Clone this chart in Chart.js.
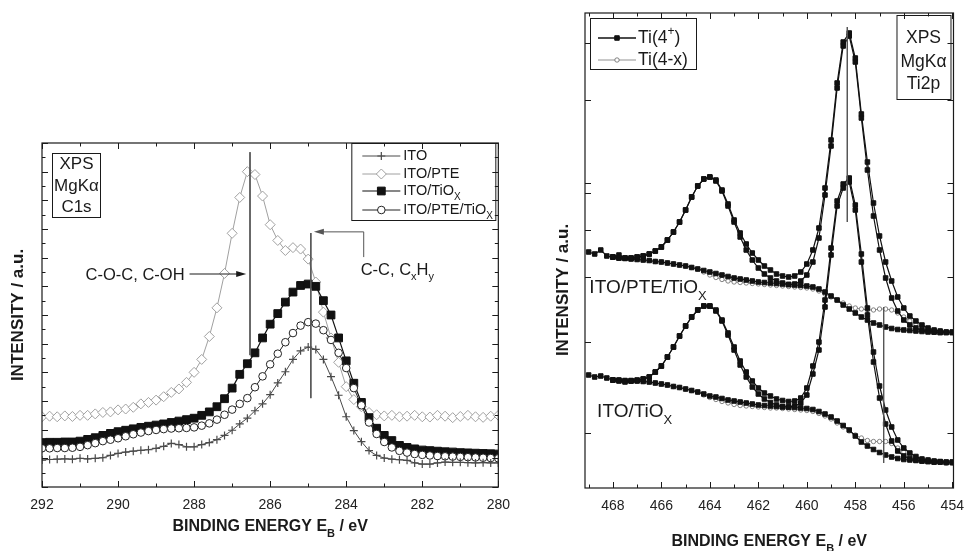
<!DOCTYPE html>
<html>
<head>
<meta charset="utf-8">
<script src="https://cdn.jsdelivr.net/npm/chart.js@4/dist/chart.umd.min.js"></script>
<style>
  body { margin: 0; background: #fff; }
  #c1sChart { position: absolute; left: 0; top: 0; }
  #ti2pChart { position: absolute; left: 520px; top: 0; }
</style>
</head>
<body>
<canvas id="c1sChart" width="520" height="551"></canvas>
<canvas id="ti2pChart" width="454" height="551"></canvas>
<script>
// ---------- C1s panel (left) ----------
const c1sEnergy = [
  292.0, 291.8, 291.6, 291.4, 291.2, 291.0, 290.8, 290.6, 290.4, 290.2,
  290.0, 289.8, 289.6, 289.4, 289.2, 289.0, 288.8, 288.6, 288.4, 288.2,
  288.0, 287.8, 287.6, 287.4, 287.2, 287.0, 286.8, 286.6, 286.4, 286.2,
  286.0, 285.8, 285.6, 285.4, 285.2, 285.0, 284.8, 284.6, 284.4, 284.2,
  284.0, 283.8, 283.6, 283.4, 283.2, 283.0, 282.8, 282.6, 282.4, 282.2,
  282.0, 281.8, 281.6, 281.4, 281.2, 281.0, 280.8, 280.6, 280.4, 280.2,
  280.0
];
const ito = [
  0.94, 0.96, 0.97, 0.98, 0.97, 1.0, 0.98, 1.0, 1.02, 1.1,
  1.17, 1.22, 1.25, 1.28, 1.3, 1.35, 1.42, 1.52, 1.48, 1.4,
  1.4, 1.48, 1.55, 1.65, 1.8, 1.98, 2.2, 2.4, 2.66, 2.9,
  3.22, 3.63, 4.02, 4.45, 4.75, 4.88, 4.8, 4.45, 3.85, 3.2,
  2.45, 1.97, 1.58, 1.27, 1.1, 1.01, 0.97, 0.95, 0.93, 0.84,
  0.8, 0.8, 0.84, 0.87, 0.86, 0.86, 0.85, 0.84, 0.85, 0.84,
  0.84
];
const itoPte = [
  2.45, 2.47, 2.45, 2.48, 2.46, 2.5, 2.5, 2.55, 2.6, 2.62,
  2.69, 2.72, 2.78, 2.9, 2.95, 3.03, 3.15, 3.3, 3.42, 3.65,
  4.0, 4.45, 5.25, 6.25, 7.45, 8.85, 10.1, 11.0, 10.9, 10.15,
  9.15, 8.6, 8.25, 8.35, 8.3, 7.95, 7.15, 6.1, 5.2, 4.35,
  3.5, 3.05, 2.8, 2.6, 2.52, 2.48, 2.5, 2.45, 2.47, 2.5,
  2.45, 2.44, 2.5, 2.47, 2.42, 2.46, 2.5, 2.45, 2.43, 2.47,
  2.5
];
const itoTiox = [
  1.55, 1.56, 1.56, 1.57, 1.57, 1.6, 1.66, 1.72, 1.8, 1.87,
  1.93, 1.98, 2.03, 2.08, 2.12, 2.16, 2.2, 2.25, 2.3, 2.35,
  2.4, 2.5, 2.62, 2.8, 3.08, 3.45, 3.93, 4.3, 4.68, 5.2,
  5.68, 6.05, 6.45, 6.8, 7.03, 7.08, 7.0, 6.5, 6.0, 5.2,
  4.4, 3.62, 2.95, 2.42, 2.05, 1.8, 1.62, 1.45, 1.38, 1.33,
  1.29, 1.27, 1.25, 1.23, 1.22, 1.2, 1.19, 1.18, 1.17, 1.16,
  1.15
];
const itoPteTiox = [
  1.35, 1.35, 1.36, 1.36, 1.37, 1.4, 1.46, 1.53, 1.6, 1.65,
  1.7, 1.77, 1.84, 1.9, 1.95, 1.99, 2.02, 2.04, 2.05, 2.06,
  2.08, 2.14, 2.22, 2.35, 2.52, 2.7, 2.9, 3.1, 3.48, 3.86,
  4.28, 4.65, 5.05, 5.37, 5.63, 5.75, 5.7, 5.47, 5.13, 4.68,
  4.15, 3.45, 2.85, 2.25, 1.85, 1.57, 1.38, 1.26, 1.2, 1.15,
  1.12, 1.1, 1.08, 1.07, 1.06, 1.05, 1.04, 1.03, 1.02, 1.01,
  1.0
];
const c1sTicks = [292, 290, 288, 286, 284, 282, 280];
// peak marker lines: [energy, top, bottom]
const c1sPeakLines = [[286.53, 11.68, 4.6], [284.93, 8.86, 3.1]];

// ---------- Ti2p panel (right) ----------
const ti2pEnergy = [
  469.0, 468.75, 468.5, 468.25, 468.0, 467.75, 467.5, 467.25,
  467.0, 466.75, 466.5, 466.25, 466.0, 465.75, 465.5, 465.25,
  465.0, 464.75, 464.5, 464.25, 464.0, 463.75, 463.5, 463.25,
  463.0, 462.75, 462.5, 462.25, 462.0, 461.75, 461.5, 461.25,
  461.0, 460.75, 460.5, 460.25, 460.0, 459.75, 459.5, 459.25,
  459.0, 458.75, 458.5, 458.25, 458.0, 457.75, 457.5, 457.25,
  457.0, 456.75, 456.5, 456.25, 456.0, 455.75, 455.5, 455.25,
  455.0, 454.75, 454.5, 454.25, 454.0
];
// ITO/PTE/TiOx (upper trace)
const ptEnvelope = [
  236, 234, 238, 232, 231, 233, 230, 230,
  231, 232, 234, 237, 241, 248, 256, 266,
  278, 291, 302, 309, 311, 308, 298, 284,
  268, 255, 244, 235, 228, 222, 218, 214,
  212, 211, 212, 216, 224, 238, 260, 300,
  348, 405, 446, 455, 430, 374, 326, 285,
  252, 226, 207, 191, 180, 172, 167, 163,
  160, 158, 157, 156, 156
];
const ptTi4a = [
  null, null, null, null, 231, 230, 230, 230,
  231, 232, 234, 237, 241, 248, 256, 266,
  278, 291, 302, 309, 311, 307, 297, 282,
  266, 251, 238, 228, 220, 214, 210, 207,
  205, 203.5, 203, 202.5, 202, 201, 199, 196,
  192, 188, 183, 179, 175, 171, 168, 165,
  163, 161, 159.5, 158.5, 158, 157.5, 157, 156.5,
  156, 156, 155.5, 155.5, 155.5
];
const ptTi4b = [
  null, null, null, null, 231, 230, 229.5, 229,
  228.5, 228, 227.5, 226.5, 226, 225, 224, 223,
  222, 220.5, 219, 217.5, 216, 214.5, 213, 211.5,
  210, 209, 208, 207, 206, 205.5, 205, 204.5,
  204, 203.5, 204, 207, 213, 226, 250, 293,
  342, 400, 442, 452, 426, 370, 318, 272,
  238, 210, 190, 177, 168, 163, 160, 158,
  157, 156, 155.5, 155.5, 155.5
];
const ptTi3 = [
  null, null, null, null, 231, 230, 229.5, 229,
  228.5, 228, 227.5, 226.5, 226, 225, 224, 223,
  222, 220.5, 219, 216, 213, 210.5, 208.5, 207,
  206, 205.5, 205, 204.5, 204, 203.5, 203, 202.5,
  202, 201.5, 201, 200.5, 200, 199, 197, 194,
  191, 188, 185, 182, 180, 179, 178, 178,
  179, 179, 178, 175, 171, 167, 164, 161.5,
  159.5, 158, 157, 156, 155.5
];
// ITO/TiOx (lower trace)
const tiEnvelope = [
  113, 111, 112, 110, 108, 107, 106, 107,
  107.5, 109, 111, 116, 122, 131, 141, 152,
  162, 171, 178, 182, 182, 178, 168, 155,
  141, 127, 116, 107, 100, 95, 92, 89,
  87.5, 86.5, 87, 90, 100, 122, 146, 188,
  240, 287, 304, 310, 283, 234, 180, 136,
  102, 78, 61, 48, 40, 35, 31.5, 29,
  28, 27, 26.5, 26, 26
];
const tiTi4a = [
  null, null, null, null, 108, 107.5, 107, 107.5,
  108, 109, 111, 116, 122, 131, 141, 152,
  162, 171, 178, 182, 182, 177, 167, 153,
  138, 123, 111, 101, 94, 89, 85.5, 83,
  81.5, 81, 80.5, 80, 79.5, 78.5, 76.5, 74,
  71, 67, 62.5, 58, 52, 46, 42, 38.5,
  35.5, 33, 31, 29.5, 28.5, 28, 27.5, 27,
  26.5, 26, 26, 25.5, 25.5
];
const tiTi4b = [
  null, null, null, null, 108, 108, 107.5, 107,
  107, 106.5, 106, 105, 104, 103, 101.5, 100.5,
  99, 97.5, 96, 94, 92, 91, 89.5, 88,
  87, 86, 85, 84, 83, 82.5, 82, 81.5,
  81, 81, 82, 85, 93, 114, 138, 181,
  233, 282, 300, 306, 278, 226, 173, 126,
  90, 64, 47, 37, 32, 29.5, 28, 27,
  26.5, 26, 26, 25.5, 25.5
];
const tiTi3 = [
  null, null, null, null, 108, 108, 107.5, 107,
  107, 106.5, 106, 105, 104, 103, 101.5, 100.5,
  99, 97.5, 96, 93, 90.5, 88.5, 86.5, 85,
  83.5, 82.5, 82, 81.5, 81, 80.5, 80, 80,
  79.5, 79, 78.5, 78, 77.5, 76.5, 74.5, 72,
  69, 65, 61, 57, 53, 50, 47.5, 46.5,
  46.5, 46.5, 44.5, 40, 36, 33, 31, 29,
  28, 27, 26, 25, 25
];
const ti2pTicks = [468, 466, 464, 462, 460, 458, 456, 454];
const ti2pYTicks = [445, 388, 305, 295, 258, 211, 146, 55];
const ti2pPeakLines = [[458.33, 461, 266], [456.83, 181, 25]];

const FONT = '"Liberation Sans", Arial, sans-serif';
const INK = '#1a1a1a';

function points(xs, ys) {
  return xs.map((x, i) => ({ x: x, y: ys[i] })).filter(p => p.y !== null);
}

function markLine(line) {
  return {
    data: [{ x: line[0], y: line[1] }, { x: line[0], y: line[2] }],
    showLine: true, borderColor: '#555', borderWidth: 1, pointRadius: 0
  };
}

// text with optional sub/superscripts: parts are strings or {sub:..} / {sup:..}
function richText(ctx, parts, x, y, size, align, bold) {
  const weight = bold ? 'bold ' : '';
  const items = parts.map(p => {
    const plain = typeof p === 'string';
    const t = plain ? p : (p.sub || p.sup);
    const s = plain ? size : Math.round(size * 0.68);
    const dy = plain ? 0 : (p.sub ? size * 0.42 : -size * 0.38);
    ctx.font = weight + s + 'px ' + FONT;
    return { t: t, s: s, dy: dy, w: ctx.measureText(t).width };
  });
  const total = items.reduce((a, it) => a + it.w, 0);
  let cx = align === 'center' ? x - total / 2 : align === 'right' ? x - total : x;
  ctx.textAlign = 'left';
  ctx.textBaseline = 'middle';
  items.forEach(it => {
    ctx.font = weight + it.s + 'px ' + FONT;
    ctx.fillText(it.t, cx, y + it.dy);
    cx += it.w;
  });
}

function drawFrame(chart, xMajor, yMajor, yMinor) {
  const { ctx, chartArea: a, scales } = chart;
  const xs = scales.x, ys = scales.y;
  ctx.save();
  ctx.strokeStyle = INK;
  ctx.lineWidth = 1.2;
  ctx.strokeRect(a.left, a.top, a.right - a.left, a.bottom - a.top);
  ctx.lineWidth = 1;
  ctx.beginPath();
  const xMinor = [];
  for (let v = Math.ceil(xs.min); v <= Math.floor(xs.max); v++) {
    if (!xMajor.includes(v)) xMinor.push(v);
  }
  const tx = (v, len) => {
    const p = Math.round(xs.getPixelForValue(v)) + 0.5;
    ctx.moveTo(p, a.bottom); ctx.lineTo(p, a.bottom - len);
    ctx.moveTo(p, a.top); ctx.lineTo(p, a.top + len);
  };
  const ty = (v, len) => {
    const p = Math.round(ys.getPixelForValue(v)) + 0.5;
    ctx.moveTo(a.left, p); ctx.lineTo(a.left + len, p);
    ctx.moveTo(a.right, p); ctx.lineTo(a.right - len, p);
  };
  xMajor.forEach(v => tx(v, 6));
  xMinor.forEach(v => tx(v, 3.5));
  yMajor.forEach(v => ty(v, 6));
  yMinor.forEach(v => ty(v, 3.5));
  ctx.stroke();
  ctx.restore();
}

function legendMark(ctx, ds, x, y) {
  ctx.save();
  ctx.strokeStyle = ds.borderColor;
  ctx.lineWidth = ds.borderWidth;
  ctx.beginPath(); ctx.moveTo(x - 19, y); ctx.lineTo(x + 19, y); ctx.stroke();
  ctx.fillStyle = ds.pointBackgroundColor;
  ctx.strokeStyle = ds.pointBorderColor;
  ctx.lineWidth = ds.pointBorderWidth;
  Chart.helpers.drawPoint(ctx, {
    pointStyle: ds.pointStyle, radius: ds.pointRadius, rotation: 0, borderWidth: ds.pointBorderWidth
  }, x, y);
  ctx.restore();
}

function yTitle(ctx, x, y) {
  ctx.save();
  ctx.translate(x, y);
  ctx.rotate(-Math.PI / 2);
  ctx.fillStyle = INK;
  richText(ctx, ['INTENSITY / a.u.'], 0, 0, 17, 'center', true);
  ctx.restore();
}

function arrowHead(ctx, x, y, dir) {
  ctx.beginPath();
  ctx.moveTo(x, y);
  ctx.lineTo(x - dir * 10, y - 3);
  ctx.lineTo(x - dir * 10, y + 3);
  ctx.closePath();
  ctx.fill();
}

// ---------- left chart ----------
const c1sSets = [
  markLine(c1sPeakLines[0]),
  markLine(c1sPeakLines[1]),
  { label: 'ITO', data: points(c1sEnergy, ito), showLine: true,
    borderColor: '#4a4a4a', borderWidth: 1, pointStyle: 'cross', pointRadius: 4,
    pointBorderColor: '#4a4a4a', pointBackgroundColor: '#4a4a4a', pointBorderWidth: 1.2 },
  { label: 'ITO/PTE/TiOx', data: points(c1sEnergy, itoPteTiox), showLine: true,
    borderColor: '#222', borderWidth: 1, pointStyle: 'circle', pointRadius: 3.8,
    pointBorderColor: '#222', pointBackgroundColor: '#fff', pointBorderWidth: 1 },
  { label: 'ITO/TiOx', data: points(c1sEnergy, itoTiox), showLine: true,
    borderColor: '#111', borderWidth: 1.2, pointStyle: 'rect', pointRadius: 5.5,
    pointBorderColor: '#111', pointBackgroundColor: '#111', pointBorderWidth: 1 },
  { label: 'ITO/PTE', data: points(c1sEnergy, itoPte), showLine: true,
    borderColor: '#a0a0a0', borderWidth: 1, pointStyle: 'rectRot', pointRadius: 5,
    pointBorderColor: '#a0a0a0', pointBackgroundColor: '#fff', pointBorderWidth: 1 }
];

const c1sDecor = {
  id: 'c1sDecor',
  afterDraw(chart) {
    const { ctx, chartArea: a, scales } = chart;
    const xs = scales.x, ys = scales.y;
    const yMajor = [], yMinor = [];
    for (let v = 0; v <= 12; v += 0.5) (v % 1 === 0 ? yMajor : yMinor).push(v);
    drawFrame(chart, c1sTicks, yMajor, yMinor);

    ctx.save();
    ctx.fillStyle = INK;
    ctx.strokeStyle = INK;
    ctx.lineWidth = 1;
    // XPS box
    ctx.strokeRect(a.left + 10.5, a.top + 10.5, 48, 64);
    richText(ctx, ['XPS'], a.left + 34.5, a.top + 21, 17, 'center');
    richText(ctx, ['MgKα'], a.left + 34.5, a.top + 43, 17, 'center');
    richText(ctx, ['C1s'], a.left + 34.5, a.top + 64, 17, 'center');

    // legend
    const lx = a.right - 147, ly = a.top;
    ctx.strokeRect(lx + 0.5, ly + 0.5, 144, 77);
    const order = [c1sSets[2], c1sSets[5], c1sSets[4], c1sSets[3]];
    const labels = [['ITO'], ['ITO/PTE'], ['ITO/TiO', { sub: 'X' }], ['ITO/PTE/TiO', { sub: 'X' }]];
    const rows = [13, 31, 48, 67];
    order.forEach((ds, i) => {
      legendMark(ctx, ds, lx + 30, ly + rows[i]);
      ctx.fillStyle = INK;
      richText(ctx, labels[i], lx + 52, ly + rows[i], 14.5, 'left');
    });

    // C-O-C arrow
    const y1 = ys.getPixelForValue(7.43);
    ctx.strokeStyle = INK;
    ctx.beginPath();
    ctx.moveTo(xs.getPixelForValue(288.12), y1);
    ctx.lineTo(xs.getPixelForValue(286.63) - 8, y1);
    ctx.stroke();
    arrowHead(ctx, xs.getPixelForValue(286.63), y1, 1);
    richText(ctx, ['C-O-C, C-OH'], xs.getPixelForValue(288.25), y1 + 1, 16.5, 'right');

    // C-C arrow
    const y2 = ys.getPixelForValue(8.9), y3 = ys.getPixelForValue(8.02);
    const xc = xs.getPixelForValue(283.54);
    ctx.strokeStyle = '#555';
    ctx.beginPath();
    ctx.moveTo(xc, y3); ctx.lineTo(xc, y2);
    ctx.lineTo(xs.getPixelForValue(284.85) + 8, y2);
    ctx.stroke();
    ctx.fillStyle = '#555';
    arrowHead(ctx, xs.getPixelForValue(284.85), y2, -1);
    ctx.fillStyle = INK;
    richText(ctx, ['C-C, C', { sub: 'x' }, 'H', { sub: 'y' }], xs.getPixelForValue(283.62), ys.getPixelForValue(7.57), 16.5, 'left');

    // axis titles
    richText(ctx, ['BINDING ENERGY E', { sub: 'B' }, ' / eV'], (a.left + a.right) / 2, 527, 16, 'center', true);
    yTitle(ctx, 18, (a.top + a.bottom) / 2);
    ctx.restore();
  }
};

new Chart(document.getElementById('c1sChart'), {
  type: 'scatter',
  data: { datasets: c1sSets },
  options: {
    responsive: false,
    animation: false,
    events: [],
    layout: { padding: { top: 143, right: 20, left: 0, bottom: 0 } },
    plugins: { legend: { display: false }, tooltip: { enabled: false } },
    scales: {
      x: {
        type: 'linear', reverse: true, min: 280, max: 292,
        afterBuildTicks: s => { s.ticks = c1sTicks.map(v => ({ value: v })); },
        afterFit: s => { s.height = 64; },
        grid: { display: false, drawTicks: false },
        border: { display: false },
        ticks: { padding: 10, maxRotation: 0, color: '#222', font: { family: FONT, size: 14 } }
      },
      y: {
        min: 0, max: 12,
        afterFit: s => { s.width = 42; },
        grid: { display: false, drawTicks: false },
        border: { display: false },
        ticks: { display: false }
      }
    }
  },
  plugins: [c1sDecor]
});

// ---------- right chart ----------
function squares(data, width) {
  return { data: data, showLine: true, borderColor: '#111', borderWidth: width,
    pointStyle: 'rect', pointRadius: 3.2, pointBorderColor: '#111',
    pointBackgroundColor: '#111', pointBorderWidth: 1 };
}
function circles(data) {
  return { data: data, showLine: true, borderColor: '#777', borderWidth: 0.8,
    pointStyle: 'circle', pointRadius: 2.2, pointBorderColor: '#666',
    pointBackgroundColor: '#fff', pointBorderWidth: 0.8 };
}

const ti2pSets = [
  markLine(ti2pPeakLines[0]),
  markLine(ti2pPeakLines[1]),
  squares(points(ti2pEnergy, ptEnvelope), 1.2),
  squares(points(ti2pEnergy, ptTi4a), 1.2),
  squares(points(ti2pEnergy, ptTi4b), 1.2),
  squares(points(ti2pEnergy, tiEnvelope), 1.2),
  squares(points(ti2pEnergy, tiTi4a), 1.2),
  squares(points(ti2pEnergy, tiTi4b), 1.2),
  circles(points(ti2pEnergy, ptTi3)),
  circles(points(ti2pEnergy, tiTi3))
];

const ti2pDecor = {
  id: 'ti2pDecor',
  afterDraw(chart) {
    const { ctx, chartArea: a, scales } = chart;
    const xs = scales.x, ys = scales.y;
    drawFrame(chart, ti2pTicks, ti2pYTicks, []);

    ctx.save();
    ctx.fillStyle = INK;
    ctx.strokeStyle = INK;
    ctx.lineWidth = 1;
    // legend
    const lx = a.left + 5, ly = a.top + 5;
    ctx.strokeRect(lx + 0.5, ly + 0.5, 106, 51);
    legendMark(ctx, Object.assign({}, ti2pSets[2], { borderWidth: 1.6 }), lx + 27, ly + 20);
    legendMark(ctx, ti2pSets[8], lx + 27, ly + 42);
    ctx.fillStyle = INK;
    richText(ctx, ['Ti(4', { sup: '+' }, ')'], lx + 48, ly + 20, 17.5, 'left');
    richText(ctx, ['Ti(4-x)'], lx + 48, ly + 42, 17.5, 'left');

    // XPS box
    const bx = a.right - 57;
    ctx.strokeRect(bx + 0.5, a.top + 2.5, 54, 84);
    richText(ctx, ['XPS'], bx + 27, a.top + 25, 17.5, 'center');
    richText(ctx, ['MgKα'], bx + 27, a.top + 49, 17.5, 'center');
    richText(ctx, ['Ti2p'], bx + 27, a.top + 71, 17.5, 'center');

    // sample labels
    richText(ctx, ['ITO/PTE/TiO', { sub: 'X' }], xs.getPixelForValue(468.97), ys.getPixelForValue(200), 19, 'left');
    richText(ctx, ['ITO/TiO', { sub: 'X' }], xs.getPixelForValue(468.65), ys.getPixelForValue(76), 19, 'left');

    // axis titles
    richText(ctx, ['BINDING ENERGY E', { sub: 'B' }, ' / eV'], (a.left + a.right) / 2, 542, 16, 'center', true);
    yTitle(ctx, 43, 290);
    ctx.restore();
  }
};

new Chart(document.getElementById('ti2pChart'), {
  type: 'scatter',
  data: { datasets: ti2pSets },
  options: {
    responsive: false,
    animation: false,
    events: [],
    layout: { padding: { top: 13, right: 13, left: 0, bottom: 0 } },
    plugins: { legend: { display: false }, tooltip: { enabled: false } },
    scales: {
      x: {
        type: 'linear', reverse: true, min: 453.95, max: 469.15,
        afterBuildTicks: s => { s.ticks = ti2pTicks.map(v => ({ value: v })); },
        afterFit: s => { s.height = 63; },
        grid: { display: false, drawTicks: false },
        border: { display: false },
        ticks: { padding: 10, maxRotation: 0, color: '#222', font: { family: FONT, size: 14 } }
      },
      y: {
        min: 0, max: 475,
        afterFit: s => { s.width = 65; },
        grid: { display: false, drawTicks: false },
        border: { display: false },
        ticks: { display: false }
      }
    }
  },
  plugins: [ti2pDecor]
});
</script>
</body>
</html>
